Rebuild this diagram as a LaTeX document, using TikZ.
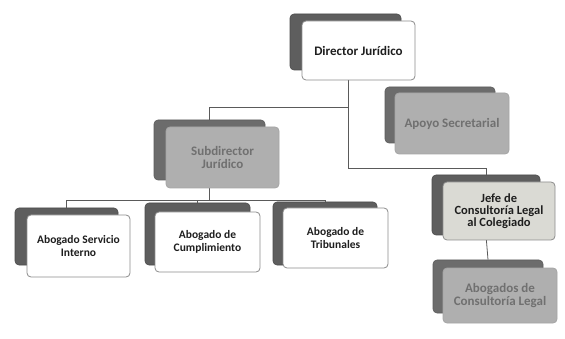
\documentclass[tikz,border=0pt]{standalone}
\usepackage{fontspec}
\setmainfont{Carlito}
\definecolor{backdark}{HTML}{5E5E5E}
\definecolor{backfade}{HTML}{6C6C6C}
\definecolor{frontfade}{HTML}{AFAFAF}
\definecolor{frontjefe}{HTML}{DADAD4}
\definecolor{edgegray}{HTML}{8C8C8C}
\definecolor{textfade}{HTML}{707070}
\definecolor{inkdark}{HTML}{1E1E1E}
\definecolor{linegray}{HTML}{5A5A5A}
\tikzset{
  backbox/.style={draw=backdark!80!black, fill=backdark, rounded corners=4pt, line width=0.6pt, inner sep=0pt},
  backfaded/.style={draw=backfade!85!black, fill=backfade, rounded corners=4pt, line width=0.6pt, inner sep=0pt},
  frontbox/.style={draw=edgegray, fill=white, rounded corners=4pt, line width=0.8pt, inner sep=2pt,
    align=center, font=\fontsize{11.5}{13}\selectfont\bfseries, text=inkdark},
  bigtext/.style={font=\fontsize{13}{12.5}\selectfont\bfseries},
  frontfaded/.style={frontbox, bigtext, fill=frontfade, text=textfade, draw=frontfade!80!gray},
  frontjefebox/.style={frontbox, fill=frontjefe, font=\fontsize{12.5}{12}\selectfont\bfseries},
  conn/.style={draw=linegray, line width=0.8pt},
}
\begin{document}
\begin{tikzpicture}[x=1pt, y=-1pt]
\useasboundingbox (0,0) rectangle (565,339);
% coordinates for connector bends
\coordinate (t1) at (348,107);
\coordinate (bus) at (0,200);
% back boxes
\node[backbox, minimum width=111pt, minimum height=56pt] (dirb) at (345.5,42) {};
\node[backfaded, minimum width=110pt, minimum height=56pt] (apob) at (440,115) {};
\node[backfaded, minimum width=111pt, minimum height=60pt] (subb) at (209.5,150) {};
\node[backbox, minimum width=103pt, minimum height=57pt] (b1b) at (66.5,236.5) {};
\node[backbox, minimum width=105pt, minimum height=62pt] (b2b) at (197.5,234) {};
\node[backbox, minimum width=104pt, minimum height=63pt] (b3b) at (325,233.5) {};
\node[backbox, minimum width=108pt, minimum height=60pt] (jefb) at (486,205) {};
\node[backfaded, minimum width=110pt, minimum height=53pt] (acb) at (488,286.5) {};
% connectors
\draw[conn] ([xshift=2.5pt]dirb.south) -- ++(0,98) -| (jefb.north);
\draw[conn] (t1) -| (subb.north);
\draw[conn] (subb.south) -- (subb.south |- bus);
\draw[conn] (b1b.north) -- (b1b.north |- bus) -| (b3b.north);
\draw[conn] (b2b.north) -- (b2b.north |- bus);
\draw[conn] (jefb.south) -- (acb.north);
% front boxes
\node[frontbox, bigtext, minimum width=113pt, minimum height=59pt] (dirf) at (358.5,50.5) {Director Jurídico};
\node[frontfaded, minimum width=114pt, minimum height=61pt] (apof) at (452,123.5) {Apoyo Secretarial};
\node[frontfaded, minimum width=113pt, minimum height=61pt] (subf) at (222.5,157.5) {Subdirector\\Jurídico};
\node[frontbox, minimum width=103pt, minimum height=62pt] (b1f) at (78.5,246) {Abogado Servicio\\Interno};
\node[frontbox, minimum width=105pt, minimum height=60pt] (b2f) at (207.5,242) {Abogado de\\Cumplimiento};
\node[frontbox, minimum width=105pt, minimum height=60pt] (b3f) at (335.5,238) {Abogado de\\Tribunales};
\node[frontjefebox, minimum width=112pt, minimum height=58pt] (jeff) at (499,211) {Jefe de\\Consultoría Legal\\al Colegiado};
\node[frontfaded, minimum width=114pt, minimum height=55pt] (acf) at (500,295.5) {Abogados de\\Consultoría Legal};
\end{tikzpicture}
\end{document}
